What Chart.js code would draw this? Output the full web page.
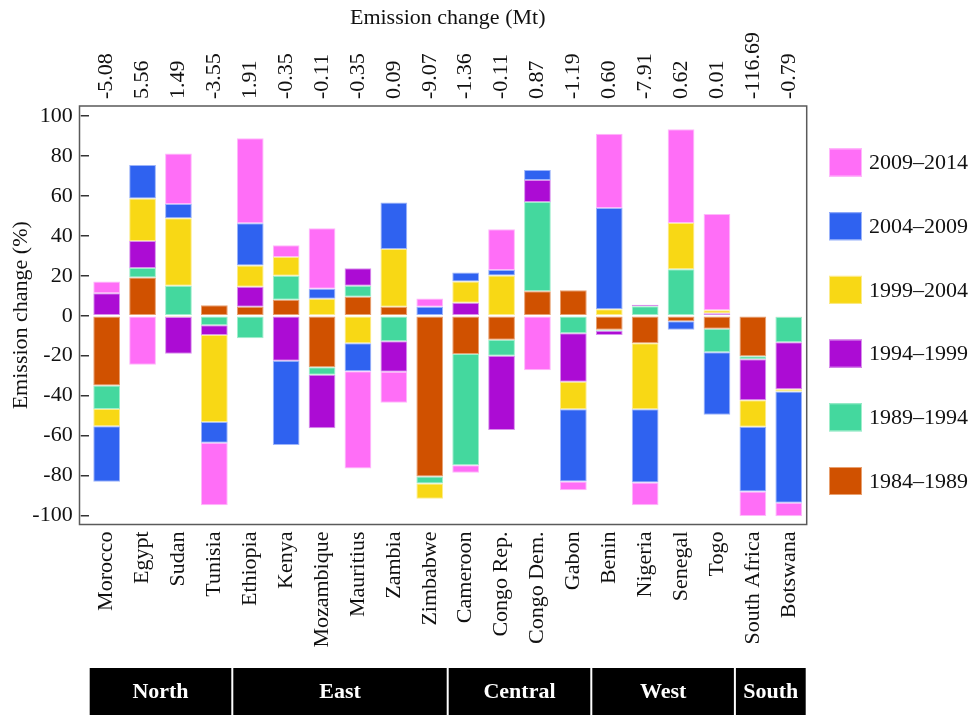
<!DOCTYPE html>
<html>
<head>
<meta charset="utf-8">
<script src="https://cdn.jsdelivr.net/npm/chart.js@4/dist/chart.umd.min.js"></script>
<style>
  html, body { margin: 0; padding: 0; background: #ffffff; }
  #wrap { width: 975px; height: 715px; position: relative; }
</style>
</head>
<body>
<div id="wrap"><canvas id="chart" width="975" height="715"></canvas></div>
<script>
// Countries, grouped by region
const countries = ['Morocco', 'Egypt', 'Sudan', 'Tunisia', 'Ethiopia', 'Kenya', 'Mozambique',
  'Mauritius', 'Zambia', 'Zimbabwe', 'Cameroon', 'Congo Rep.', 'Congo Dem.', 'Gabon',
  'Benin', 'Nigeria', 'Senegal', 'Togo', 'South Africa', 'Botswana'];

// Total emission change per country (Mt), shown on the top axis
const emissionMt = ['-5.08', '5.56', '1.49', '-3.55', '1.91', '-0.35', '-0.11', '-0.35', '0.09',
  '-9.07', '-1.36', '-0.11', '0.87', '-1.19', '0.60', '-7.91', '0.62', '0.01', '-116.69', '-0.79'];

// Emission change (%) per five-year period
const periods = ['1984–1989', '1989–1994', '1994–1999', '1999–2004', '2004–2009', '2009–2014'];
const p1984 = [-35, 19.2, -0.6, 5.2, 4.5, 8, -25.8, 9.5, 4.5, -80.5, -19.2, -12, 12.3, 12.8, -7, -13.8, -2.8, -6.5, -20.3, -0.5];
const p1989 = [-11.7, 4.7, 15, -4.8, -11.3, 12, -3.8, 5.5, -12.8, -3.5, -55.7, -8, 44.7, -8.8, -0.5, 4.7, 23.3, -11.8, -1.5, -12.8];
const p1994 = [11.3, 13.5, -18.5, -4.8, 10, -22.5, -26.8, 8.8, -15.3, 0, 6.5, -37.2, 11, -24.3, -2.2, 0.8, 0, 1.2, -20.5, -23.5];
const p1999 = [-8.7, 21.3, 33.8, -43.7, 10.7, 9.5, 8.5, -13.8, 29, -7.7, 10.7, 20.2, 0, -13.7, 3.2, -33, 23.2, 1.5, -13.3, -1.2];
const p2004 = [-27.8, 16.8, 7.2, -10.3, 21.2, -42.3, 5, -14, 23.3, 4.5, 4.5, 2.7, 5, -36.3, 50.8, -36.8, -4.2, -31.3, -32.5, -55.7];
const p2009 = [5.9, -24.5, 25.3, -31.3, 42.5, 5.8, 30.3, -48.8, -15.5, 4.2, -3.8, 20.5, -27.3, -4.3, 37.2, -11.3, 47, 48.3, -12.3, -6.8];

// Regions: name, first and last country index
const regionNames = ['North', 'East', 'Central', 'West', 'South'];
const regionFirst = [0, 4, 10, 14, 18];
const regionLast = [3, 9, 13, 17, 19];

const fills = ['#D05100', '#44D89E', '#AC0CD4', '#F8D815', '#2F62F0', '#FF6EF7'];
const edges = ['#E8A070', '#A0EECC', '#D890EC', '#FCEC8C', '#9CB4FA', '#FFB8FB'];

const FONT = '"Liberation Serif", "Times New Roman", serif';
const series = [p1984, p1989, p1994, p1999, p2004, p2009];

const datasets = series.map((vals, i) => ({
  label: periods[i],
  data: vals,
  backgroundColor: fills[i],
  borderColor: edges[i],
  borderWidth: 1,
  borderSkipped: false,
  barPercentage: 0.745,
  categoryPercentage: 1.0,
  xAxisID: 'x',
  yAxisID: 'y'
}));

// Frame around the plot, extended left so the y tick marks sit inside it
const framePlugin = {
  id: 'frame',
  afterDraw(chart) {
    const { ctx, chartArea: a } = chart;
    ctx.save();
    ctx.strokeStyle = '#5a5a5a';
    ctx.lineWidth = 1.5;
    ctx.strokeRect(a.left - 9.2, a.top, a.right - a.left + 9.2, a.bottom - a.top);
    ctx.restore();
  }
};

// Region bands under the country labels
const regionPlugin = {
  id: 'regions',
  afterDraw(chart) {
    const { ctx } = chart;
    const xs = chart.scales.x;
    const half = (xs.getPixelForTick(1) - xs.getPixelForTick(0)) / 2;
    const top = 668, bottom = 715;
    ctx.save();
    ctx.font = 'bold 22px ' + FONT;
    ctx.textAlign = 'center';
    ctx.textBaseline = 'middle';
    regionNames.forEach((name, i) => {
      const l = xs.getPixelForTick(regionFirst[i]) - half + 1;
      const r = xs.getPixelForTick(regionLast[i]) + half - 1;
      ctx.fillStyle = '#000000';
      ctx.fillRect(l, top, r - l, bottom - top);
      ctx.fillStyle = '#ffffff';
      ctx.fillText(name, (l + r) / 2, (top + bottom) / 2 + 1);
    });
    ctx.restore();
  }
};

// Legend on the right, newest period on top
const legendPlugin = {
  id: 'sideLegend',
  afterDraw(chart) {
    const { ctx } = chart;
    const ds = chart.data.datasets;
    ctx.save();
    ctx.font = '22px ' + FONT;
    ctx.textAlign = 'left';
    ctx.textBaseline = 'middle';
    for (let k = 0; k < ds.length; k++) {
      const d = ds[ds.length - 1 - k];
      const cy = 162.5 + k * 63.7;
      ctx.fillStyle = d.backgroundColor;
      ctx.fillRect(829, cy - 14, 33, 28);
      ctx.strokeStyle = d.borderColor;
      ctx.lineWidth = 1;
      ctx.strokeRect(829.5, cy - 13.5, 32, 27);
      ctx.fillStyle = '#111111';
      ctx.fillText(d.label, 869, cy + 1);
    }
    ctx.restore();
  }
};

new Chart(document.getElementById('chart'), {
  type: 'bar',
  data: { labels: countries, datasets },
  options: {
    responsive: false,
    animation: false,
    layout: { padding: { left: 0, right: 168.3, top: 0, bottom: 0 } },
    plugins: {
      legend: { display: false },
      tooltip: { enabled: false }
    },
    scales: {
      x: {
        type: 'category',
        position: 'bottom',
        stacked: true,
        offset: true,
        grid: { display: false, drawTicks: false },
        border: { display: false },
        ticks: {
          autoSkip: false, minRotation: 90, maxRotation: 90, padding: 7,
          color: '#111111', font: { family: FONT, size: 22 }
        },
        afterFit(s) { s.height = 190.5; }
      },
      x2: {
        type: 'category',
        position: 'top',
        labels: emissionMt,
        offset: true,
        grid: { display: false, drawTicks: false },
        border: { display: false },
        ticks: {
          autoSkip: false, minRotation: 90, maxRotation: 90, padding: 7,
          // rotated top labels are drawn one line-height left of the tick; shift back over the bar
          labelOffset: 26.4,
          color: '#111111', font: { family: FONT, size: 22 }
        },
        title: {
          display: true, text: 'Emission change (Mt)', color: '#111111',
          font: { family: FONT, size: 22 }, padding: { top: 5, bottom: 0 }
        },
        afterFit(s) { s.height = 106; }
      },
      y: {
        stacked: true,
        min: -104.6,
        max: 105.1,
        grid: { display: true, drawOnChartArea: false, drawTicks: true, tickLength: 8, color: '#333333', lineWidth: 1.5 },
        border: { display: false },
        ticks: {
          stepSize: 20, includeBounds: false, padding: 8,
          color: '#111111', font: { family: FONT, size: 22 }
        },
        title: {
          display: true, text: 'Emission change (%)', color: '#111111',
          font: { family: FONT, size: 22 }, padding: { top: 8, bottom: 0 }
        },
        afterFit(s) { s.width = 88.7; }
      }
    }
  },
  plugins: [framePlugin, regionPlugin, legendPlugin]
});
</script>
</body>
</html>
